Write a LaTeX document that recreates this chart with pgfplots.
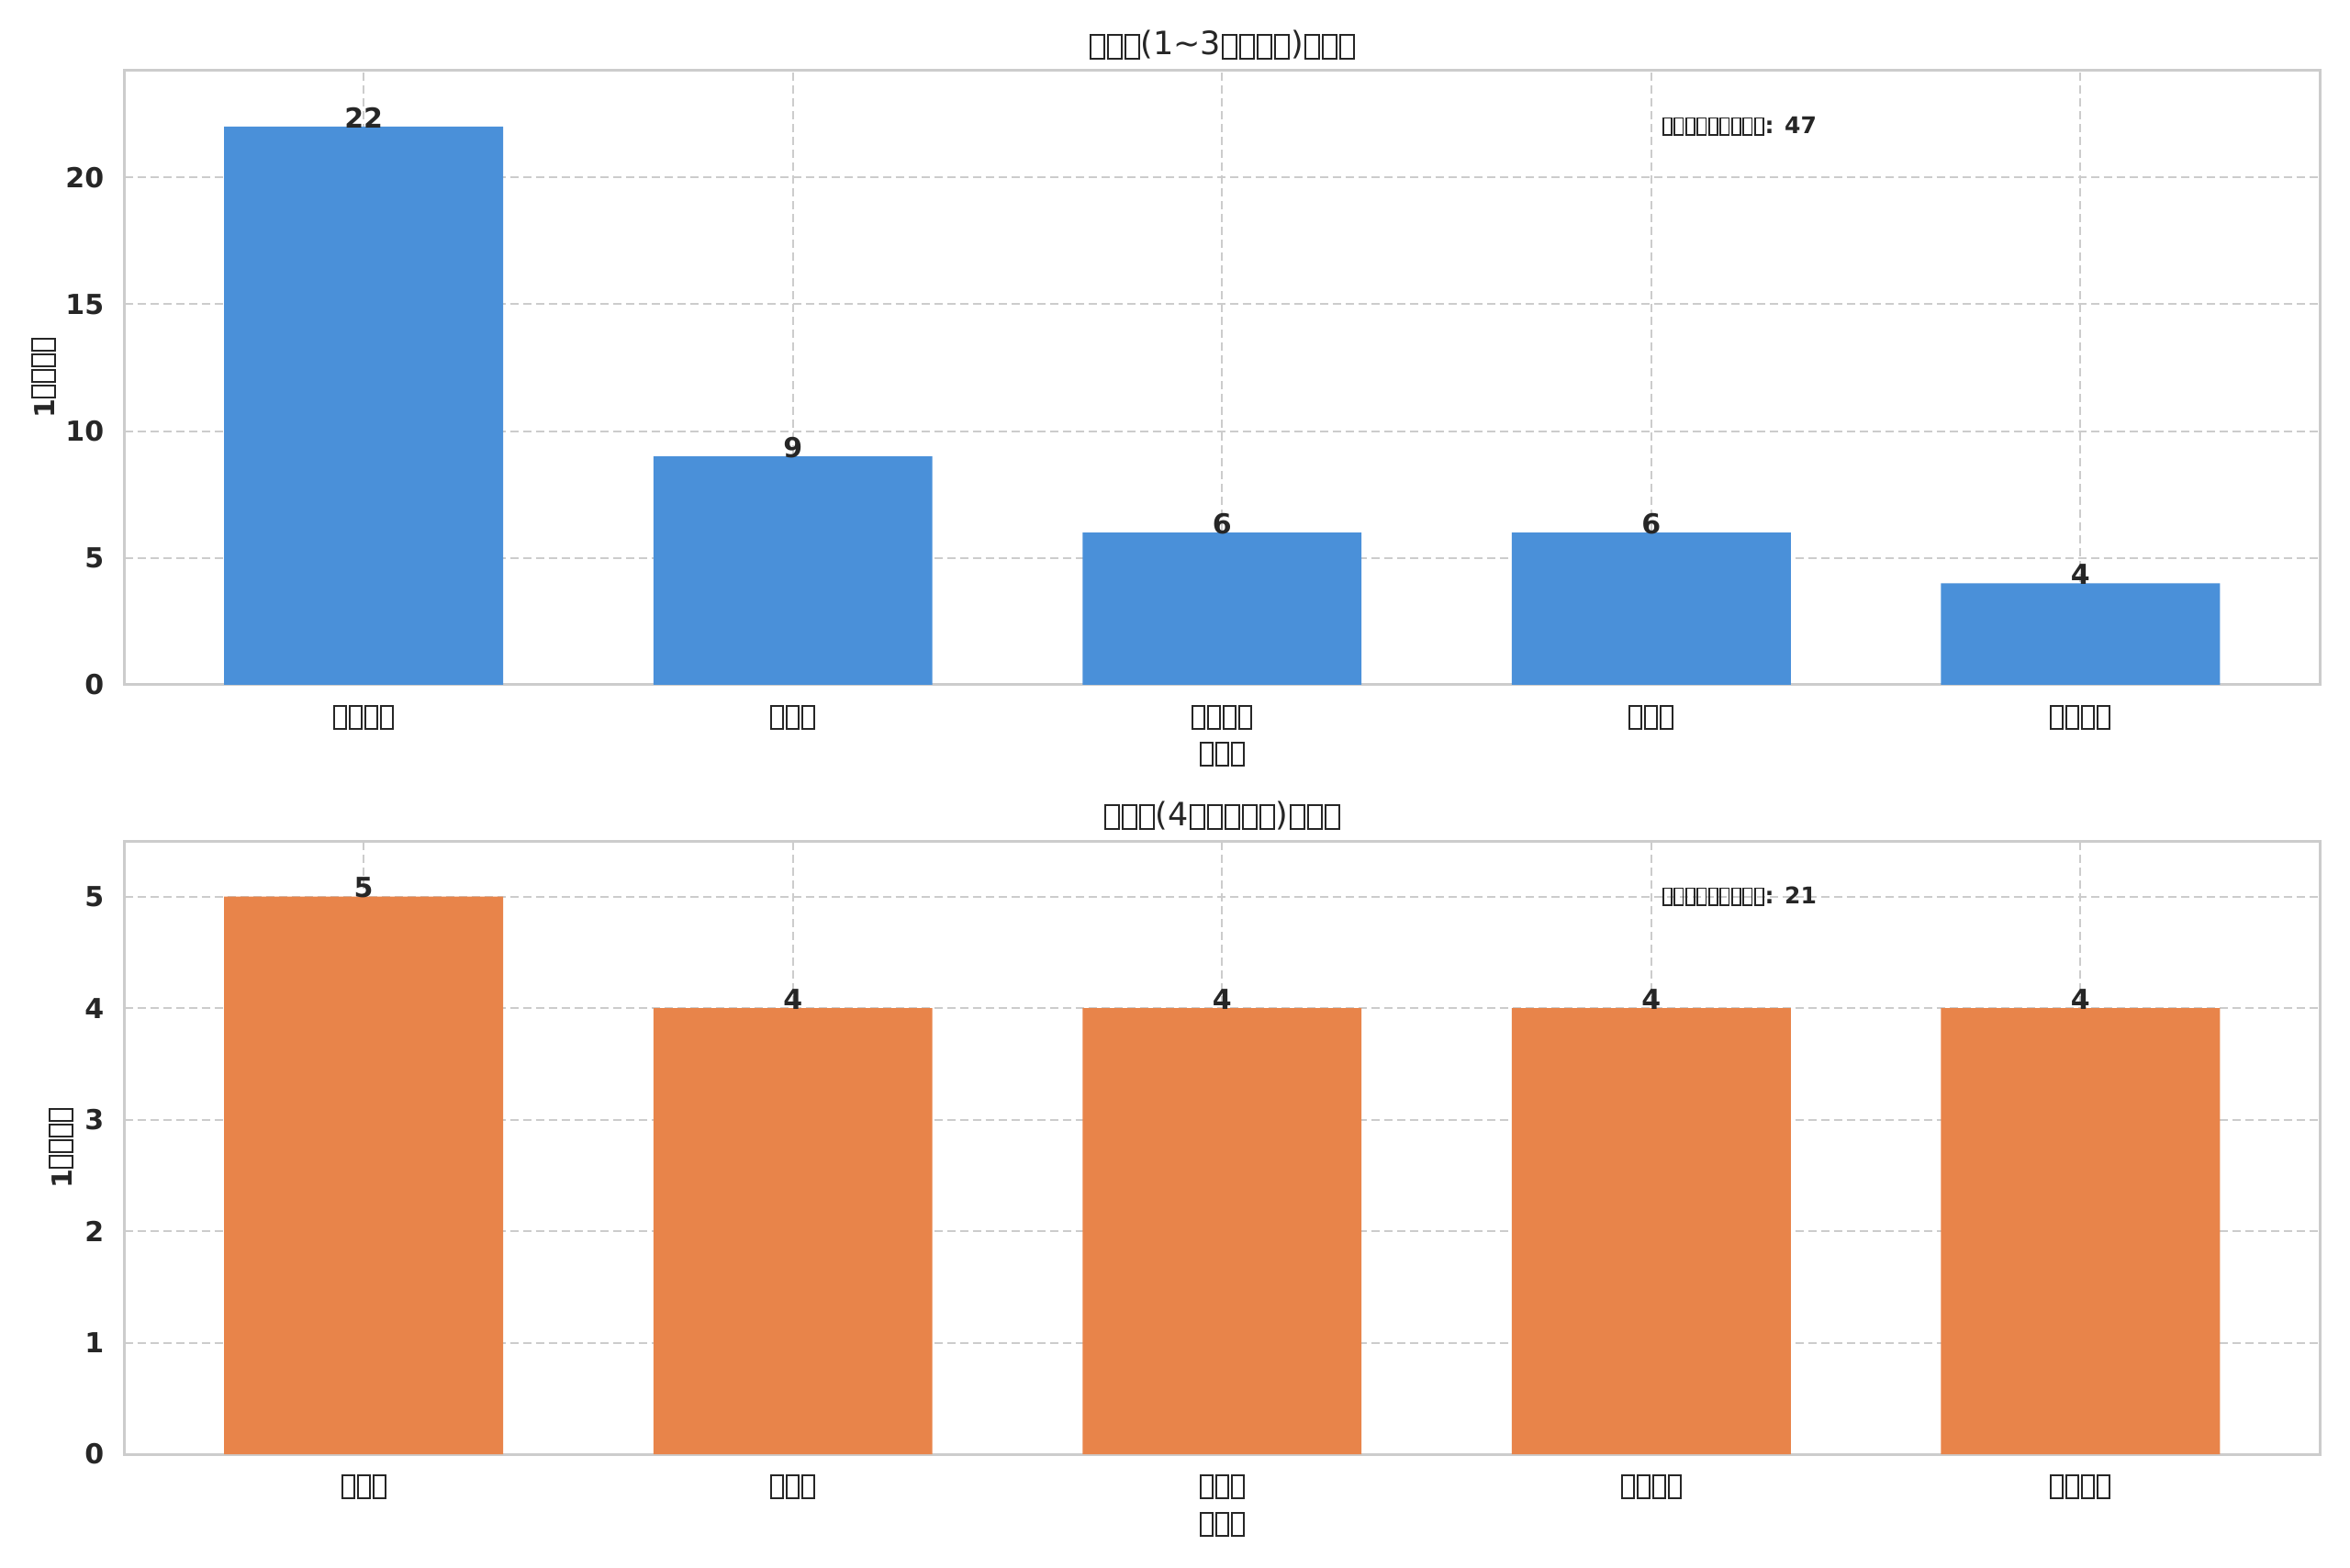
\documentclass[border=0pt]{standalone}
\usepackage{fontspec}
\setmainfont{DejaVu Sans}
\usepackage{pgfplots}
\pgfplotsset{compat=1.18}
\definecolor{barblue}{RGB}{74,144,217}
\definecolor{barorange}{RGB}{232,132,74}
\definecolor{gridgray}{RGB}{204,204,204}
\definecolor{txt}{RGB}{38,38,38}
% empty "missing glyph" boxes, as the reference shows them
\newcommand\tofu[5]{\kern#4\raisebox{#5}{\begingroup\setlength\fboxsep{0pt}\setlength\fboxrule{#3}\fbox{\rule{0pt}{#2}\kern#1}\endgroup}\kern#4}
\newcommand\TB{\tofu{5.2pt}{9.6pt}{0.8pt}{0.4pt}{-1.2pt}}
\newcommand\XB{\tofu{4.4pt}{9.2pt}{0.8pt}{0.4pt}{0pt}}
\newcommand\AB{\tofu{3pt}{6.6pt}{0.7pt}{0.3pt}{-0.3pt}}
\begin{document}
\begin{tikzpicture}
\useasboundingbox (0,0) rectangle (1024pt,682.8pt);
\pgfplotsset{
  every axis title shift=0pt,
  myax/.style={
    scale only axis, width=956.6pt,
    xmin=-0.5575, xmax=4.5575, ymin=0,
    xtick={0,1,2,3,4},
    axis line style={gridgray, line width=1.2pt},
    xmajorgrids, ymajorgrids,
    major grid style={gridgray, line width=0.8pt, dash pattern=on 3.6pt off 2pt},
    major tick length=0pt,
    tick style={draw=none},
    ybar, bar width=0.65, bar shift=0pt,
    /pgf/number format/assume math mode=true,
    xticklabel style={font=\fontsize{12}{14}\selectfont, text=txt, anchor=base, yshift=-18.8pt},
    yticklabel style={font=\fontsize{12}{14}\selectfont\bfseries, text=txt, xshift=-5.4pt},
    nodes near coords,
    nodes near coords style={font=\bfseries\fontsize{12}{14}\selectfont, text=txt, anchor=south, inner sep=0pt, yshift=-0.8pt},
    title style={font=\fontsize{14}{17}\selectfont, text=txt, at={(axis description cs:0.5,1)}, anchor=base, yshift=6.8pt},
    xlabel style={font=\fontsize{12}{14}\selectfont, text=txt, at={(axis description cs:0.5,0)}, anchor=base, yshift=-35pt},
    ylabel style={font=\fontsize{12}{14}\selectfont\bfseries, text=txt, anchor=center},
  }
}
\begin{axis}[myax, at={(54.2pt,384.4pt)}, anchor=south west, height=267.6pt,
  ymax=24.2, ytick={0,5,10,15,20},
  title={\TB\TB\TB(1\textasciitilde3\TB\TB\TB\TB)\TB\TB\TB},
  xticklabels={\XB\XB\XB\XB,\XB\XB\XB,\XB\XB\XB\XB,\XB\XB\XB,\XB\XB\XB\XB},
  xlabel={\XB\XB\XB},
  ylabel={1\XB\XB\XB\XB},
  ylabel style={at={(axis description cs:-0.0366,0.5)}},
]
\addplot[fill=barblue, draw=none] coordinates {(0,22) (1,9) (2,6) (3,6) (4,4)};
\node[anchor=west, font=\bfseries\fontsize{10}{12}\selectfont, text=txt, inner sep=0pt] at (rel axis cs:0.7,0.91) {\AB\AB\AB\AB\AB\AB\AB\AB\AB: 47};
\end{axis}
\begin{axis}[myax, at={(54.2pt,49.2pt)}, anchor=south west, height=267.2pt,
  ymax=5.5, ytick={0,1,2,3,4,5},
  title={\TB\TB\TB(4\TB\TB\TB\TB\TB)\TB\TB\TB},
  xticklabels={\XB\XB\XB,\XB\XB\XB,\XB\XB\XB,\XB\XB\XB\XB,\XB\XB\XB\XB},
  xlabel={\XB\XB\XB},
  ylabel={1\XB\XB\XB\XB},
  ylabel style={at={(axis description cs:-0.0287,0.5)}},
]
\addplot[fill=barorange, draw=none] coordinates {(0,5) (1,4) (2,4) (3,4) (4,4)};
\node[anchor=west, font=\bfseries\fontsize{10}{12}\selectfont, text=txt, inner sep=0pt] at (rel axis cs:0.7,0.91) {\AB\AB\AB\AB\AB\AB\AB\AB\AB: 21};
\end{axis}
\end{tikzpicture}
\end{document}
